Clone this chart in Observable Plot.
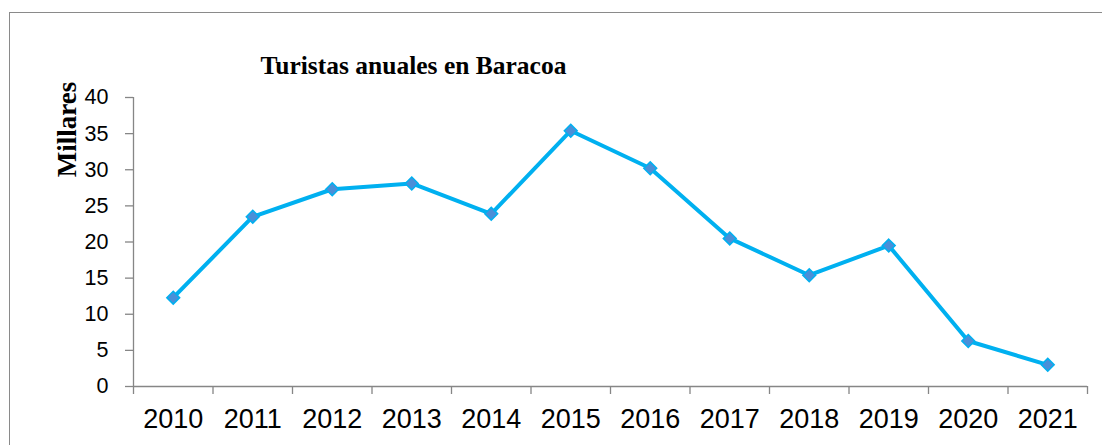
<!DOCTYPE html>
<html>
<head>
<meta charset="utf-8">
<script src="https://cdn.jsdelivr.net/npm/d3@7"></script>
<script src="https://cdn.jsdelivr.net/npm/@observablehq/plot@0.6"></script>
<style>
  html, body { margin: 0; padding: 0; background: white; overflow: hidden; }
  #wrap { position: relative; width: 1102px; height: 445px; overflow: hidden; }
  #frame { position: absolute; left: 9px; top: 12px; width: 1200px; height: 600px;
           border: 1.5px solid #8a8a8a; pointer-events: none; z-index: 2; }
  #chart svg { display: block; }
</style>
</head>
<body>
<div id="wrap"><div id="frame"></div><div id="chart"></div></div>
<script>
const title = "Turistas anuales en Baracoa";
const yLabel = "Millares";
const years = ["2010","2011","2012","2013","2014","2015","2016","2017","2018","2019","2020","2021"];
const values = [12.3, 23.5, 27.3, 28.1, 23.9, 35.4, 30.2, 20.5, 15.4, 19.5, 6.3, 3.0];
const yTicks = [0, 5, 10, 15, 20, 25, 30, 35, 40];

const data = years.map((year, i) => ({year, pos: i + 0.5, value: values[i]}));
const axisGray = "#868686";

const plot = Plot.plot({
  width: 1102,
  height: 445,
  marginLeft: 133,
  marginRight: 15,
  marginTop: 97,
  marginBottom: 59,
  style: {fontFamily: "'Liberation Sans', Arial, sans-serif", background: "transparent"},
  x: {type: "linear", domain: [0, years.length], axis: null},
  y: {domain: [0, 40], axis: null},
  marks: [
    Plot.axisY({ticks: yTicks, tickSize: 8, tickPadding: 17, stroke: axisGray, fill: "black",
                fontSize: 21.5, label: null, strokeWidth: 1.3}),
    Plot.axisX({ticks: d3.range(years.length + 1), tickSize: 8, tickFormat: () => "",
                stroke: axisGray, label: null, strokeWidth: 1.3}),
    Plot.axisX({ticks: data.map(d => d.pos), tickSize: 0, tickPadding: 22, fill: "black",
                fontSize: 27, label: null, tickFormat: p => years[Math.floor(p)]}),
    Plot.ruleX([0], {stroke: axisGray, strokeWidth: 1.3}),
    Plot.ruleY([0], {stroke: axisGray, strokeWidth: 1.3}),
    Plot.line(data, {x: "pos", y: "value", stroke: "#00B0F0", strokeWidth: 4}),
    Plot.dot(data, {x: "pos", y: "value", symbol: "diamond2", r: 5.8, fill: "#4A8FD8",
                    stroke: "#00B0F0", strokeWidth: 1.5}),
    Plot.text([title], {text: d => d, frameAnchor: "top-left", dx: 280, dy: -32,
                        textAnchor: "middle", lineAnchor: "middle", fontSize: 25.5, fontWeight: "bold",
                        fontFamily: "'Liberation Serif', 'Times New Roman', serif", fill: "black"}),
    Plot.text([yLabel], {text: d => d, frameAnchor: "top-left", dx: -66, dy: 32, rotate: -90,
                         textAnchor: "middle", lineAnchor: "middle", fontSize: 27, fontWeight: "bold",
                         fontFamily: "'Liberation Serif', 'Times New Roman', serif", fill: "black"})
  ]
});
document.getElementById("chart").appendChild(plot);
</script>
</body>
</html>
